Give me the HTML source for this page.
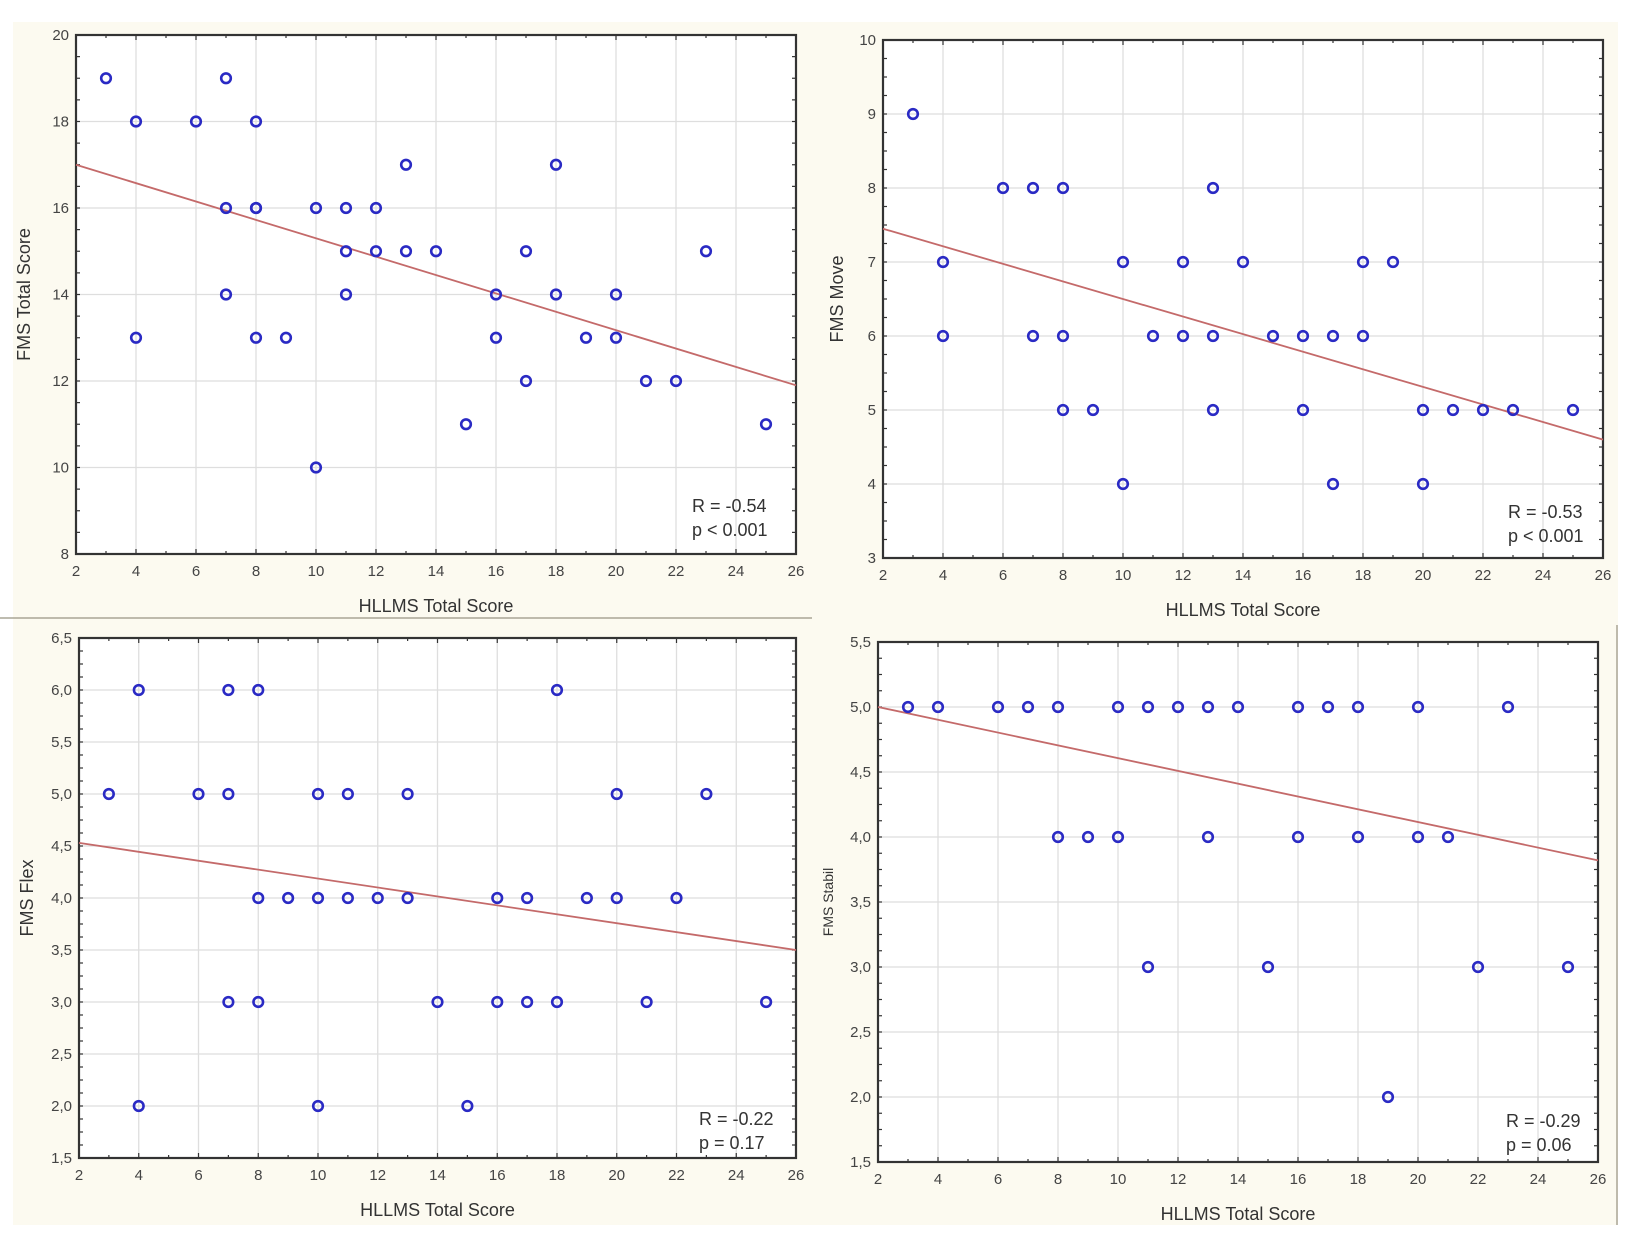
<!DOCTYPE html>
<html><head><meta charset="utf-8"><style>
html,body{margin:0;padding:0;background:#fff;}
svg{display:block;font-family:"Liberation Sans",sans-serif;}
</style></head><body>
<svg id="fig" width="1632" height="1240" viewBox="0 0 1632 1240">
<rect x="13" y="22" width="1605" height="1203" fill="#fcfaf0"/>
<line x1="0" y1="618" x2="812" y2="618" stroke="#a9a596" stroke-width="1.5"/>
<line x1="1617" y1="625" x2="1617" y2="1225" stroke="#a9a596" stroke-width="1.5"/>
</svg>
<script>
// ---- data ----
const p1X = [3,4,4,6,7,7,7,8,8,8,8,9,10,10,11,11,11,12,12,13,13,14,15,16,16,17,17,18,18,19,20,20,21,22,23,25];
const p1Y = [19,18,13,18,19,16,14,18,16,16,13,13,16,10,16,15,14,16,15,17,15,15,11,14,13,15,12,17,14,13,14,13,12,12,15,11];
const p1Fit = [17.0, 11.9];
const p2X = [3,4,4,6,7,7,8,8,8,9,10,10,11,12,12,13,13,13,14,15,16,16,17,17,18,18,19,20,20,21,22,23,25];
const p2Y = [9,7,6,8,8,6,8,6,5,5,7,4,6,7,6,8,6,5,7,6,6,5,6,4,7,6,7,5,4,5,5,5,5];
const p2Fit = [7.45, 4.6];
const p3X = [3,4,4,6,7,7,7,8,8,8,9,10,10,10,11,11,12,13,13,14,15,16,16,17,17,18,18,19,20,20,21,22,23,25];
const p3Y = [5,6,2,5,6,5,3,6,4,3,4,5,4,2,5,4,4,5,4,3,2,4,3,4,3,6,3,4,5,4,3,4,5,3];
const p3Fit = [4.53, 3.5];
const p4X = [3,4,6,7,8,8,9,10,10,11,11,12,13,13,14,15,16,16,17,18,18,19,20,20,21,22,23,25];
const p4Y = [5,5,5,5,5,4,4,5,4,5,3,5,5,4,5,3,5,4,5,5,4,2,5,4,4,3,5,3];
const p4Fit = [5.0, 3.82];
const xTicks = [2,4,6,8,10,12,14,16,18,20,22,24,26];
const p1YTicks = ["8","10","12","14","16","18","20"];
const p2YTicks = ["3","4","5","6","7","8","9","10"];
const p3YTicks = ["1,5","2,0","2,5","3,0","3,5","4,0","4,5","5,0","5,5","6,0","6,5"];
const p4YTicks = ["1,5","2,0","2,5","3,0","3,5","4,0","4,5","5,0","5,5"];

const NS = "http://www.w3.org/2000/svg";
const svg = document.getElementById('fig');
function mk(tag, attrs, parent){const e=document.createElementNS(NS,tag);for(const k in attrs)e.setAttribute(k,attrs[k]);(parent||svg).appendChild(e);return e;}

function panel(id, box, yTicks, xs, ys, fit, stats, xTitle, yTitle, yTitleSize){
  const g = mk('g',{});
  
  
  const yVals = yTicks.map(t=>parseFloat(t.replace(',','.')));
  const x0=2,x1=26,y0=yVals[0],y1=yVals[yVals.length-1];
  const sx=v=>box.l+(v-x0)/(x1-x0)*(box.r-box.l);
  const sy=v=>box.b-(v-y0)/(y1-y0)*(box.b-box.t);
  const bg = mk('rect',{x:box.l,y:box.t,width:box.r-box.l,height:box.b-box.t,fill:'#fff'},g);
  
  
  // grid
  xTicks.forEach(v=>{ if(v>x0&&v<x1){const l=mk('line',{x1:sx(v),x2:sx(v),y1:box.t,y2:box.b,stroke:'#dedede','stroke-width':1.3},g);
    
    }});
  yVals.forEach(v=>{ if(v>y0&&v<y1){const l=mk('line',{x1:box.l,x2:box.r,y1:sy(v),y2:sy(v),stroke:'#dedede','stroke-width':1.3},g);
    
    }});
  // minor ticks
  for(let v=x0;v<=x1;v+=1){const len=(v%2===0)?5:3;
    mk('line',{x1:sx(v),x2:sx(v),y1:box.t,y2:box.t+len,stroke:'#333','stroke-width':1.2},g);
    mk('line',{x1:sx(v),x2:sx(v),y1:box.b,y2:box.b-len,stroke:'#333','stroke-width':1.2},g);}
  const ystep=(yVals[1]-yVals[0])/4;
  for(let v=y0;v<=y1+1e-9;v+=ystep){
    mk('line',{x1:box.l,x2:box.l+4,y1:sy(v),y2:sy(v),stroke:'#333','stroke-width':1.2},g);
    mk('line',{x1:box.r,x2:box.r-4,y1:sy(v),y2:sy(v),stroke:'#333','stroke-width':1.2},g);}
  const fr = mk('rect',{x:box.l,y:box.t,width:box.r-box.l,height:box.b-box.t,fill:'none',stroke:'#333','stroke-width':2.2},g);
  
  
  // tick labels
  xTicks.forEach(v=>{const t=mk('text',{x:sx(v),y:box.b+22,'text-anchor':'middle','font-size':15,fill:'#444'},g);t.textContent=v;
    
    });
  yTicks.forEach((lab,i)=>{const t=mk('text',{x:box.l-7,y:sy(yVals[i])+5,'text-anchor':'end','font-size':15,fill:'#444'},g);t.textContent=lab;
    
    });
  // fit line
  const fl = mk('line',{x1:sx(x0),y1:sy(fit[0]),x2:sx(x1),y2:sy(fit[1]),stroke:'#c46a6a','stroke-width':1.8},g);
  
  
  // points
  xs.forEach((xv,i)=>{const c=mk('circle',{cx:sx(xv),cy:sy(ys[i]),r:4.8,fill:'none',stroke:'#2a2ac4','stroke-width':2.6},g);
    
    });
  // stats
  const s1=mk('text',{x:stats.x,y:stats.y,'font-size':18,fill:'#333'},g);s1.textContent=stats.r;
  
  
  const s2=mk('text',{x:stats.x,y:stats.y+24,'font-size':18,fill:'#333'},g);s2.textContent=stats.p;
  
  
  const xt=mk('text',{x:(box.l+box.r)/2,y:box.b+58,'text-anchor':'middle','font-size':18,fill:'#333'},g);xt.textContent=xTitle;
  
  
  const yx=yTitle.x, yc=(box.t+box.b)/2;
  const yt=mk('text',{x:yx,y:yc,'text-anchor':'middle','font-size':yTitleSize,fill:'#333',transform:`rotate(-90 ${yx} ${yc})`},g);yt.textContent=yTitle.t;
  
  
}
panel('panel-fms-total',{l:76,r:796,t:35,b:554},p1YTicks,p1X,p1Y,p1Fit,{x:692,y:512,r:'R = -0.54',p:'p < 0.001'},'HLLMS Total Score',{x:30,t:'FMS Total Score'},18);
panel('panel-fms-move',{l:883,r:1603,t:40,b:558},p2YTicks,p2X,p2Y,p2Fit,{x:1508,y:518,r:'R = -0.53',p:'p < 0.001'},'HLLMS Total Score',{x:843,t:'FMS Move'},18);
panel('panel-fms-flex',{l:79,r:796,t:638,b:1158},p3YTicks,p3X,p3Y,p3Fit,{x:699,y:1125,r:'R = -0.22',p:'p = 0.17'},'HLLMS Total Score',{x:33,t:'FMS Flex'},18);
panel('panel-fms-stabil',{l:878,r:1598,t:642,b:1162},p4YTicks,p4X,p4Y,p4Fit,{x:1506,y:1127,r:'R = -0.29',p:'p = 0.06'},'HLLMS Total Score',{x:833,t:'FMS Stabil'},14);
</script>
</body></html>
